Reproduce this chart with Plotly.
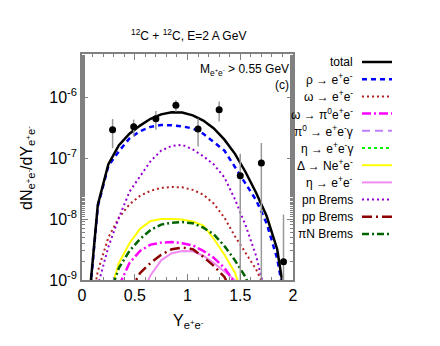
import plotly.graph_objects as go

# ---------------- data ----------------
X_GRID = [0.05, 0.15, 0.25, 0.35, 0.45, 0.55, 0.65, 0.75, 0.85, 0.95,
          1.05, 1.15, 1.25, 1.35, 1.45, 1.55, 1.65, 1.75, 1.85, 1.95]

total = [2.2e-10, 1.71e-8, 7.9e-8, 1.62e-7, 2.5e-7, 3.4e-7, 4.4e-7, 5.2e-7, 5.6e-7, 5.55e-7,
         5.0e-7, 4.1e-7, 3.05e-7, 2.0e-7, 1.17e-7, 5.9e-8, 2.7e-8, 1.12e-8, 3.2e-9, 2.5e-10]
rho = [2.0e-10, 1.62e-8, 7.4e-8, 1.29e-7, 2.1e-7, 2.75e-7, 3.24e-7, 3.47e-7, 3.45e-7, 3.3e-7,
       3.05e-7, 2.5e-7, 1.82e-7, 1.32e-7, 7.1e-8, 3.8e-8, 2.04e-8, 8.5e-9, 2.24e-9, 2.5e-10]

x_omega = [0.05, 0.15, 0.25, 0.35, 0.45, 0.55, 0.65, 0.75, 0.85, 0.95,
           1.05, 1.15, 1.25, 1.35, 1.45, 1.55, 1.65, 1.75]
omega = [1.6e-10, 1.4e-9, 5.0e-9, 1.05e-8, 1.74e-8, 2.4e-8, 2.9e-8, 3.24e-8, 3.35e-8, 3.3e-8,
         3.0e-8, 2.5e-8, 1.78e-8, 1.05e-8, 5.2e-9, 2.8e-9, 1.5e-9, 6.3e-10]

x_pn = [0.15, 0.25, 0.35, 0.45, 0.55, 0.65, 0.75, 0.85, 0.95,
        1.05, 1.15, 1.25, 1.35, 1.45, 1.55, 1.65, 1.75]
pn_brems = [8e-10, 3.5e-9, 1.05e-8, 2.8e-8, 5.0e-8, 8.9e-8, 1.32e-7, 1.58e-7, 1.64e-7,
            1.38e-7, 1.07e-7, 7.8e-8, 4.8e-8, 2.1e-8, 7.9e-9, 2.5e-9, 5e-10]

x_delta = [0.25, 0.35, 0.45, 0.55, 0.65, 0.75, 0.85, 0.95, 1.05, 1.15, 1.25, 1.35, 1.45, 1.55]
delta = [5e-10, 1.9e-9, 4.0e-9, 6.9e-9, 9.3e-9, 1.0e-8, 1.0e-8, 9.8e-9, 9.1e-9, 7.8e-9,
         4.7e-9, 2.6e-9, 1.32e-9, 4e-10]

x_piN = [0.25, 0.35, 0.45, 0.55, 0.65, 0.75, 0.85, 0.95, 1.05, 1.15, 1.25, 1.35, 1.45, 1.55, 1.65]
piN_brems = [5e-10, 1.58e-9, 3.0e-9, 4.7e-9, 6.6e-9, 8.1e-9, 8.7e-9, 8.9e-9, 8.5e-9, 7.2e-9,
             5.6e-9, 3.6e-9, 2.1e-9, 1.12e-9, 4e-10]

x_omdalitz = [0.35, 0.45, 0.55, 0.65, 0.75, 0.85, 0.95, 1.05, 1.15, 1.25, 1.35, 1.45]
omega_dalitz = [8e-10, 1.9e-9, 3.0e-9, 3.8e-9, 4.1e-9, 4.2e-9, 4.0e-9, 3.7e-9, 3.0e-9,
                2.3e-9, 1.58e-9, 8.9e-10]

x_pp = [0.45, 0.55, 0.65, 0.75, 0.85, 0.95, 1.05, 1.15, 1.25, 1.35, 1.45]
pp_brems = [6.3e-10, 1.3e-9, 1.9e-9, 2.6e-9, 3.2e-9, 3.4e-9, 3.2e-9, 2.4e-9, 1.7e-9, 1.12e-9, 5e-10]

x_eta = [0.55, 0.65, 0.75, 0.85, 0.95, 1.05, 1.15, 1.25, 1.35, 1.45, 1.55]
eta_ee = [5e-10, 1.2e-9, 2.1e-9, 2.75e-9, 3.0e-9, 2.95e-9, 2.5e-9, 1.9e-9, 1.38e-9, 1.0e-9, 4e-10]

# contributions below the displayed range
x_small = [0.75, 0.95, 1.15]
pi0_dalitz = [3e-10, 3.5e-10, 3e-10]
eta_dalitz = [2e-10, 2.5e-10, 2e-10]

data_x = [0.29, 0.49, 0.70, 0.89, 1.10, 1.30, 1.50, 1.70, 1.91]
data_y = [2.9e-7, 3.26e-7, 4.4e-7, 7.3e-7, 3.0e-7, 6.2e-7, 5.1e-8, 8.3e-8, 2.0e-9]
data_err = [1.45e-7, 1.0e-7, 1.5e-7, 1.55e-7, 1.45e-7, 2.25e-7, 6.6e-8, 9.4e-8, 9.8e-9]

y_tickvals = [1e-9, 1e-8, 1e-7, 1e-6]
y_ticktext = ["10<sup>-9</sup>", "10<sup>-8</sup>", "10<sup>-7</sup>", "10<sup>-6</sup>"]

EE = "e<sup>+</sup>e<sup>-</sup>"
legend_items = [
    ("total", "black", "solid", 2.5),
    ("\u03c1 \u2192 " + EE, "#0000ff", "5px,4px", 2.5),
    ("\u03c9 \u2192 " + EE, "#b22222", "2px,3px", 2),
    ("\u03c9 \u2192 \u03c0<sup>0</sup>" + EE, "#ff00ff", "9px,3px,2px,3px", 2.5),
    ("\u03c0<sup>0</sup> \u2192 " + EE + "\u03b3", "#c080ff", "8px,5px", 2),
    ("\u03b7 \u2192 " + EE + "\u03b3", "#00ee00", "3px,3px", 2),
    ("\u0394 \u2192 N" + EE, "#ffff00", "solid", 2),
    ("\u03b7 \u2192 " + EE, "#f08cf0", "solid", 2),
    ("pn Brems", "#9400d3", "2px,3px", 2),
    ("pp Brems", "#8b0000", "10px,4px,2px,4px", 2.5),
    ("\u03c0N Brems", "#006400", "7px,3px,2px,3px", 2.5),
]

series = [
    (X_GRID, total), (X_GRID, rho), (x_omega, omega), (x_omdalitz, omega_dalitz),
    (x_small, pi0_dalitz), (x_small, eta_dalitz), (x_delta, delta), (x_eta, eta_ee),
    (x_pn, pn_brems), (x_pp, pp_brems), (x_piN, piN_brems),
]

fig = go.Figure()

# draw in an order so total/rho are on top
order = [4, 5, 7, 9, 3, 6, 10, 2, 8, 1, 0]
for i in order:
    name, color, dash, w = legend_items[i]
    xs, ys = series[i]
    fig.add_trace(go.Scatter(x=xs, y=ys, mode="lines", name=name, showlegend=False,
                             line=dict(color=color, dash=dash, width=w)))

fig.add_trace(go.Scatter(
    x=data_x, y=data_y, mode="markers", showlegend=False,
    marker=dict(color="black", size=7),
    error_y=dict(type="data", array=data_err, symmetric=True, width=0,
                 color="#999999", thickness=1.5)))

# ---------------- manual legend ----------------
L, R, T, B = 74, 285, 46, 272
W, H = R - L, B - T

def px(xp):
    return (xp - L) / W

def py(yp):
    return (B - yp) / H

row0, step = 54, 17.2
for k, (name, color, dash, w) in enumerate(legend_items):
    yy = row0 + k * step
    fig.add_annotation(x=px(347), y=py(yy), xref="paper", yref="paper", text=name,
                       showarrow=False, xanchor="right", yanchor="middle",
                       font=dict(size=12, color="black"))
    fig.add_shape(type="line", xref="paper", yref="paper",
                  x0=px(354), x1=px(384), y0=py(yy), y1=py(yy),
                  line=dict(color=color, dash=dash, width=w))

fig.add_annotation(x=px(180), y=py(27), xref="paper", yref="paper",
                   text="<sup>12</sup>C + <sup>12</sup>C, E=2 A GeV", showarrow=False,
                   xanchor="center", yanchor="middle", font=dict(size=12, color="black"))
fig.add_annotation(x=px(283), y=py(62), xref="paper", yref="paper",
                   text="M<sub>" + EE + "</sub> > 0.55 GeV", showarrow=False,
                   xanchor="right", yanchor="middle", font=dict(size=12, color="black"))
fig.add_annotation(x=px(283), y=py(77), xref="paper", yref="paper",
                   text="(c)", showarrow=False,
                   xanchor="right", yanchor="middle", font=dict(size=12, color="black"))
fig.add_annotation(x=px(19), y=py(160), xref="paper", yref="paper",
                   text="dN<sub>" + EE + "</sub>/dY<sub>" + EE + "</sub>", showarrow=False,
                   textangle=-90, xanchor="center", yanchor="middle",
                   font=dict(size=16, color="black"))
fig.add_annotation(x=px(180), y=py(313), xref="paper", yref="paper",
                   text="Y<sub>" + EE + "</sub>", showarrow=False,
                   xanchor="center", yanchor="middle", font=dict(size=16, color="black"))

axis_common = dict(showline=True, linecolor="#808080", linewidth=1.5, mirror="allticks",
                   ticks="inside", tickcolor="#808080", showgrid=False, zeroline=False,
                   tickfont=dict(size=16, color="black"))

fig.update_xaxes(range=[0, 2], dtick=0.5, tick0=0, ticklen=6,
                 minor=dict(ticks="inside", dtick=0.1, ticklen=3, tickcolor="#808080"),
                 **axis_common)
fig.update_yaxes(type="log", range=[-9, -5.295], tickvals=y_tickvals, ticktext=y_ticktext,
                 ticklen=6,
                 minor=dict(ticks="inside", ticklen=3, tickcolor="#808080"),
                 **axis_common)

fig.update_layout(width=440, height=346, margin=dict(l=L, r=440 - R, t=T, b=346 - B),
                  plot_bgcolor="white", paper_bgcolor="white",
                  font=dict(family="Liberation Sans, Arial, sans-serif", color="black"))

fig.write_html("out.html")
